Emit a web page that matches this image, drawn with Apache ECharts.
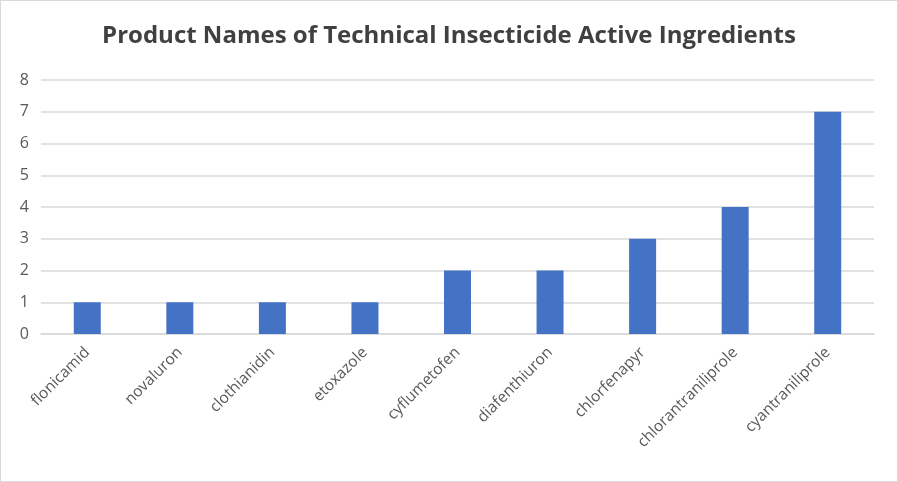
<!DOCTYPE html>
<html>
<head>
<meta charset="utf-8">
<script src="https://cdn.jsdelivr.net/npm/echarts@6/dist/echarts.min.js"></script>
<style>
html,body{margin:0;padding:0;background:#fff;}
#c{width:896px;height:480px;border:1px solid #d9d9d9;}
</style>
</head>
<body>
<div id="c"></div>
<script>
const categories = ["flonicamid","novaluron","clothianidin","etoxazole","cyflumetofen","diafenthiuron","chlorfenapyr","chlorantraniliprole","cyantraniliprole"];
const values = [1,1,1,1,2,2,3,4,7];
const yTicks = [0,1,2,3,4,5,6,7,8];

const chart = echarts.init(document.getElementById('c'), null, {renderer:'canvas'});
chart.setOption({
  animation:false,
  backgroundColor:'#fff',
  title:{
    text:'Product Names of Technical Insecticide Active Ingredients',
    left:'center', top:18,
    textStyle:{fontFamily:'Open Sans', fontWeight:'bold', fontSize:24, color:'#404040'}
  },
  grid:{left:40, right:23, top:79, bottom:147, containLabel:false},
  xAxis:{
    type:'category', data:categories,
    axisLine:{show:true, lineStyle:{color:'#d9d9d9', width:1.5}},
    axisTick:{show:false},
    axisLabel:{rotate:45, interval:0, margin:16, fontFamily:'Open Sans', fontSize:15.5, color:'#595959'}
  },
  yAxis:{
    type:'value', min:yTicks[0], max:yTicks[yTicks.length-1], interval:1,
    axisLine:{show:false}, axisTick:{show:false},
    splitLine:{lineStyle:{color:'#d9d9d9', width:1.5}},
    axisLabel:{margin:12, fontFamily:'Open Sans', fontSize:16, color:'#595959'}
  },
  series:[{
    type:'bar', data:values, barWidth:27,
    itemStyle:{color:'#4472c4'}
  }]
});
</script>
</body>
</html>
